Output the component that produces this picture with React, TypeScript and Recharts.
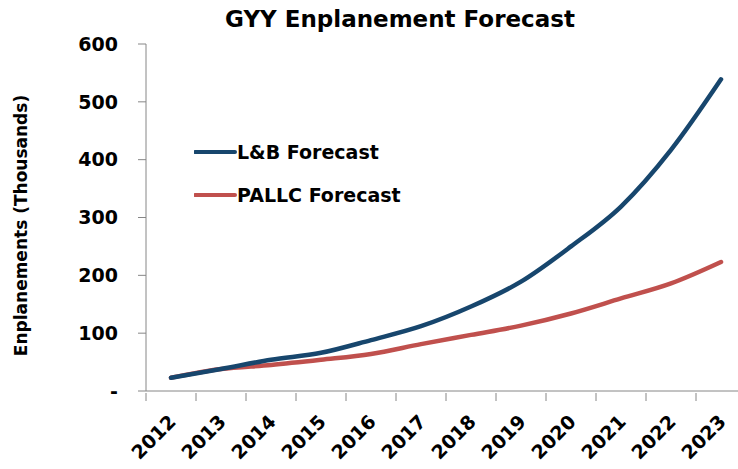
import React from 'react';
import { LineChart, Line, XAxis, YAxis, Legend } from 'recharts';

const years = ['2012', '2013', '2014', '2015', '2016', '2017', '2018', '2019', '2020', '2021', '2022', '2023'];
const lbForecast = [23, 38, 54, 66, 88, 112, 146, 189, 250, 319, 417, 539];
const pallcForecast = [23, 38, 45, 54, 64, 81, 97, 113, 134, 160, 186, 223];
const yTicks = [0, 100, 200, 300, 400, 500, 600];

const data = years.map((year, i) => ({
  year,
  lb: lbForecast[i],
  pallc: pallcForecast[i],
}));

const FONT = '"DejaVu Sans", sans-serif';
const BLUE = '#17466d';
const RED = '#c0504d';
const AXIS = '#868686';

// year label plus Excel-style tick marks on the band edges
const YearTick = (props: any) => {
  const { x, y, payload, index } = props;
  const half = payload.offset || 0;
  const tx = x + 6;
  const ty = y + 30;
  const last = index === years.length - 1;
  return (
    <g>
      <line x1={x - half} y1={y} x2={x - half} y2={y + 8} stroke={AXIS} />
      {last && <line x1={x + half} y1={y} x2={x + half} y2={y + 8} stroke={AXIS} />}
      <text
        x={tx}
        y={ty}
        textAnchor="end"
        transform={`rotate(-45, ${tx}, ${ty})`}
        fontFamily={FONT}
        fontWeight="bold"
        fontSize={19}
        fill="#000"
      >
        {payload.value}
      </text>
    </g>
  );
};

const LegendBox = () => (
  <div style={{ fontFamily: FONT, fontWeight: 'bold', fontSize: 19, color: '#000' }}>
    {[
      { name: 'L&B Forecast', color: BLUE },
      { name: 'PALLC Forecast', color: RED },
    ].map((item, i) => (
      <div key={item.name} style={{ display: 'flex', alignItems: 'center', height: 24, marginTop: i ? 19 : 0 }}>
        <svg width={43} height={10}>
          <line x1={1} y1={5} x2={41} y2={5} stroke={item.color} strokeWidth={4} strokeLinecap="round" />
        </svg>
        <span>{item.name}</span>
      </div>
    ))}
  </div>
);

export default function App() {
  return (
    <div style={{ position: 'absolute', left: 0, top: 0, width: 738, height: 469, overflow: 'hidden', background: '#fff' }}>
      <div
        style={{
          position: 'absolute',
          left: 0,
          width: 800,
          top: 6,
          textAlign: 'center',
          fontFamily: FONT,
          fontWeight: 'bold',
          fontSize: 23,
          color: '#000',
        }}
      >
        GYY Enplanement Forecast
      </div>
      <LineChart width={760} height={469} data={data} margin={{ top: 44, right: 14, bottom: 0, left: 0 }}>
        <XAxis
          dataKey="year"
          scale="band"
          height={78}
          axisLine={{ stroke: AXIS }}
          tickLine={false}
          tickSize={0}
          interval={0}
          tick={<YearTick />}
        />
        <YAxis
          domain={[0, 600]}
          ticks={yTicks}
          width={146}
          tickSize={8}
          tickMargin={20}
          axisLine={{ stroke: AXIS }}
          tickLine={{ stroke: AXIS }}
          tickFormatter={(v: number) => (v === 0 ? '-' : String(v))}
          tick={{ fontFamily: FONT, fontWeight: 'bold', fontSize: 19, fill: '#000' }}
          label={({ viewBox }: any) => {
            const cy = viewBox.y + viewBox.height / 2 + 8;
            return (
              <text
                x={27}
                y={cy}
                textAnchor="middle"
                transform={`rotate(-90, 27, ${cy})`}
                fontFamily={FONT}
                fontWeight="bold"
                fontSize={17}
                fill="#000"
              >
                Enplanements (Thousands)
              </text>
            );
          }}
        />
        <Legend
          layout="vertical"
          align="center"
          verticalAlign="middle"
          content={<LegendBox />}
          wrapperStyle={{ left: 194, top: 140, width: 260 }}
        />
        <Line
          dataKey="pallc"
          name="PALLC Forecast"
          type="monotone"
          stroke={RED}
          strokeWidth={4.5}
          strokeLinecap="round"
          dot={false}
          isAnimationActive={false}
        />
        <Line
          dataKey="lb"
          name="L&B Forecast"
          type="monotone"
          stroke={BLUE}
          strokeWidth={4.5}
          strokeLinecap="round"
          dot={false}
          isAnimationActive={false}
        />
      </LineChart>
    </div>
  );
}
